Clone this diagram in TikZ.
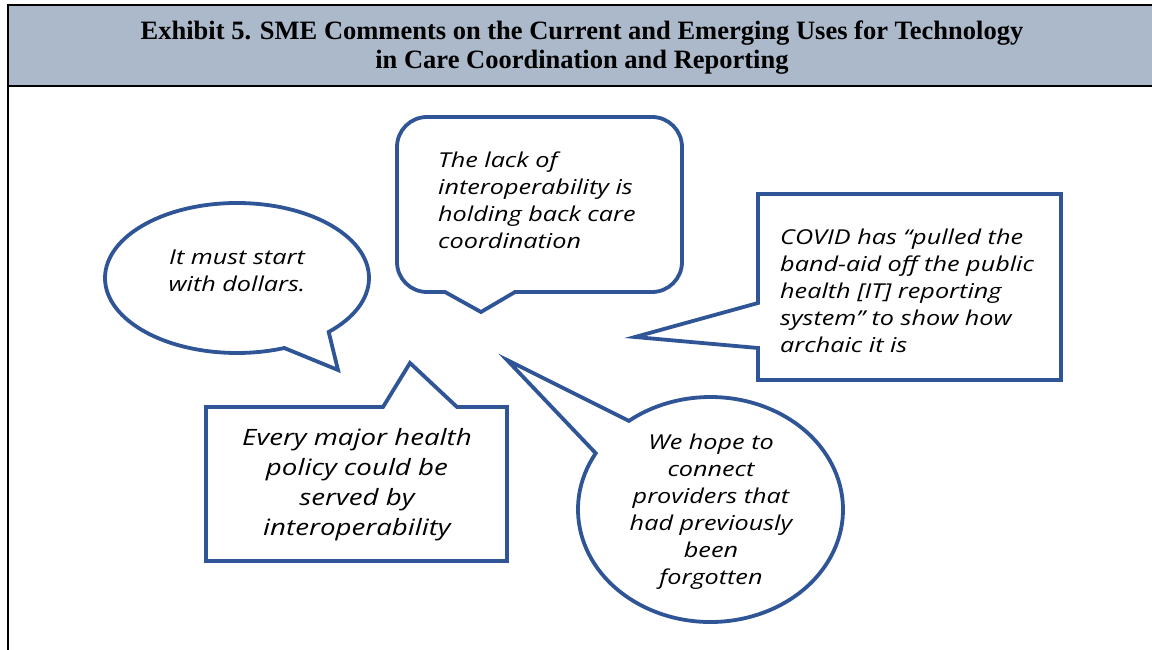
\documentclass[tikz,border=0pt]{standalone}
\usepackage{fontspec}
\setmainfont{Liberation Serif}
\newfontfamily\saysfont[FakeStretch=1.23]{Open Sans}
\definecolor{hdrfill}{RGB}{172,185,202}
\definecolor{sayblue}{RGB}{47,85,151}

\begin{document}
\begin{tikzpicture}[x=1pt, y=1pt,
    bubble/.style={draw=sayblue, line width=3.8pt, fill=white},
    saying/.style={font=\saysfont\itshape\fontsize{20.5}{27}\selectfont, inner sep=0pt}]
    \useasboundingbox (0,0) rectangle (1152,649);
    \clip (0,0) rectangle (1152,649);
    \fill[hdrfill] (8,563) rectangle (1160,644);
    \draw[line width=2.5pt] (1160,644) -- (8,644) -- (8,-10);
    \draw[line width=2.5pt] (8,563) -- (1160,563);
    \node[font=\bfseries\fontsize{26.5}{29}\selectfont, align=center] (title) at (582,601)
        {Exhibit 5. SME Comments on the Current and Emerging Uses for Technology\\in Care Coordination and Reporting};

    \draw[bubble] (237,371) ++(-46:132 and 75) arc[start angle=-46, end angle=291, x radius=132, y radius=75] -- (338,279) -- cycle;
    \draw[bubble] (445,357) -- (481,337) -- (515,357) -- (652,357) arc[start angle=-90, end angle=0, radius=30]
        -- (682,502) arc[start angle=0, end angle=90, radius=30] -- (427,532) arc[start angle=90, end angle=180, radius=30]
        -- (397,387) arc[start angle=180, end angle=270, radius=30] -- cycle;
    \draw[bubble] (758,346) -- (635,312) -- (758,301) -- (758,269) -- (1061,269) -- (1061,455) -- (758,455) -- cycle;
    \draw[bubble] (383,242) -- (410,286) -- (457,242) -- (507,242) -- (507,88) -- (206,88) -- (206,242) -- cycle;
    \draw[bubble] (710.5,139.5) ++(150:132.5 and 112.5) arc[start angle=150, end angle=488, x radius=132.5, y radius=112.5] -- (507,289) -- cycle;

    \node[saying, align=center] (dollars) at (237,378) {It must start\\with dollars.};
    \node[saying, align=left, anchor=west] (lack) at (438,448.5) {The lack of\\interoperability is\\holding back care\\coordination};
    \node[saying, align=left, anchor=west] (covid) at (780,358.5) {COVID has “pulled the\\band-aid off the public\\health [IT] reporting\\system” to show how\\archaic it is};
    \node[saying, align=center, font=\saysfont\itshape\fontsize{22.5}{30}\selectfont] (policy) at (357,164) {Every major health\\policy could be\\served by\\interoperability};
    \node[saying, align=center] (hope) at (711,137) {We hope to\\connect\\providers that\\had previously\\been\\forgotten};
\end{tikzpicture}
\end{document}
